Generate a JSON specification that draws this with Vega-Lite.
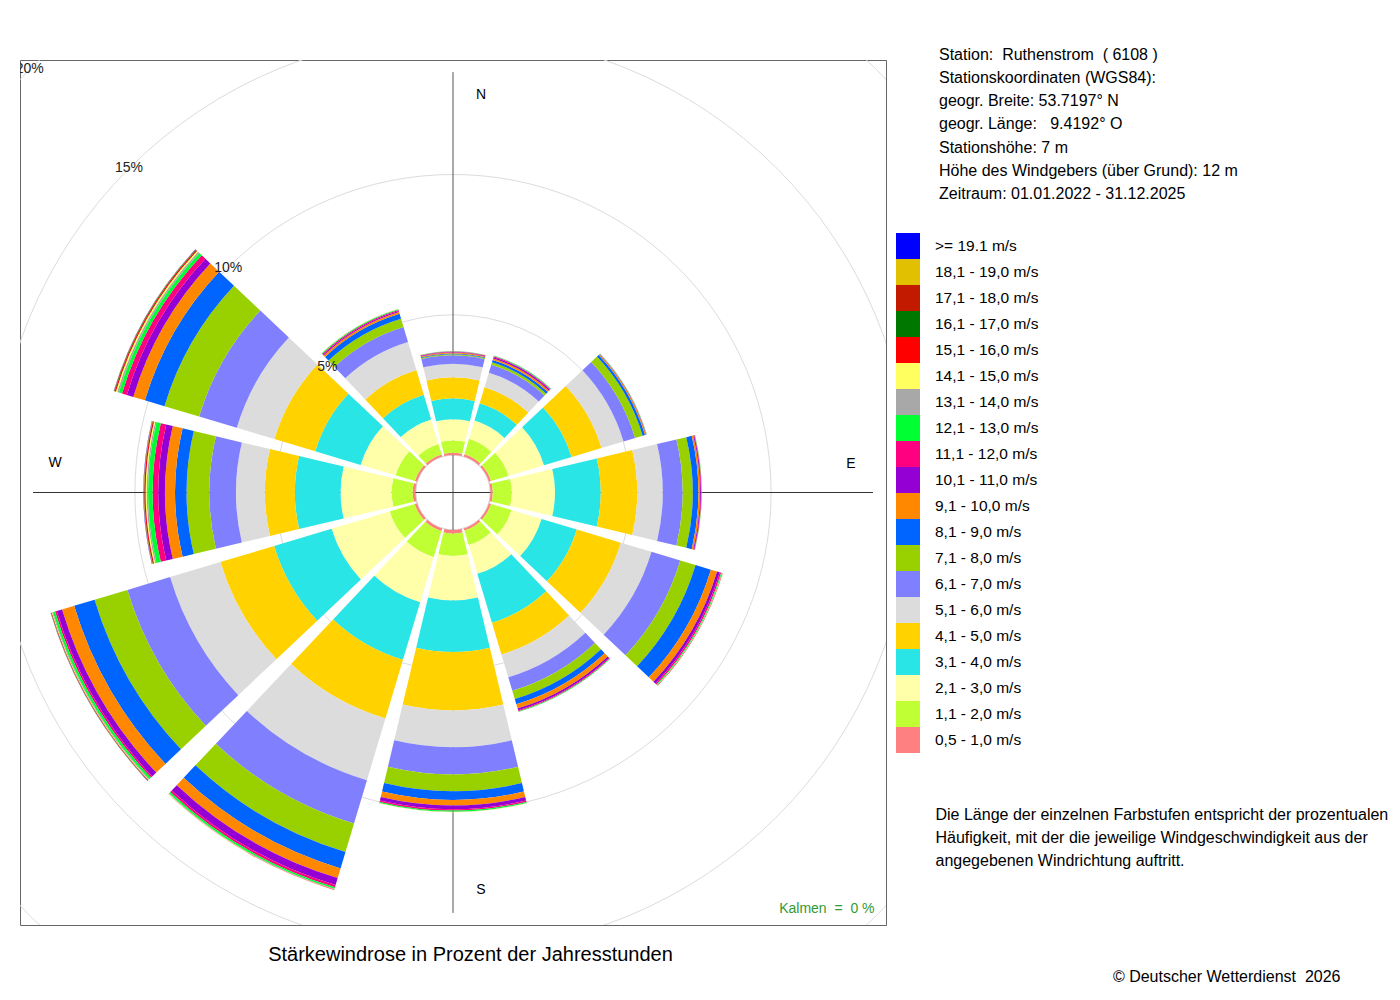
{
  "$schema": "https://vega.github.io/schema/vega-lite/v6.json",
  "width": 866,
  "height": 865,
  "autosize": "none",
  "padding": {"left": 20, "top": 60, "right": 514, "bottom": 75},
  "background": "white",
  "title": {
    "text": [
      "Station:\u00a0 Ruthenstrom\u00a0 ( 6108 )",
      "Stationskoordinaten (WGS84):",
      "geogr. Breite: 53.7197° N",
      "geogr. Länge:\u00a0\u00a0 9.4192° O",
      "Stationshöhe: 7 m",
      "Höhe des Windgebers (über Grund): 12 m",
      "Zeitraum: 01.01.2022 - 31.12.2025"
    ],
    "orient": "top",
    "anchor": "start",
    "frame": "group",
    "offset": 0,
    "dx": 919,
    "dy": 142,
    "baseline": "top",
    "lineHeight": 23.2,
    "fontSize": 16,
    "fontWeight": "normal",
    "color": "#000000"
  },
  "datasets": {
    "classes": [
      {"k": 1, "cls": "0,5 - 1,0 m/s"},
      {"k": 2, "cls": "1,1 - 2,0 m/s"},
      {"k": 3, "cls": "2,1 - 3,0 m/s"},
      {"k": 4, "cls": "3,1 - 4,0 m/s"},
      {"k": 5, "cls": "4,1 - 5,0 m/s"},
      {"k": 6, "cls": "5,1 - 6,0 m/s"},
      {"k": 7, "cls": "6,1 - 7,0 m/s"},
      {"k": 8, "cls": "7,1 - 8,0 m/s"},
      {"k": 9, "cls": "8,1 - 9,0 m/s"},
      {"k": 10, "cls": "9,1 - 10,0 m/s"},
      {"k": 11, "cls": "10,1 - 11,0 m/s"},
      {"k": 12, "cls": "11,1 - 12,0 m/s"},
      {"k": 13, "cls": "12,1 - 13,0 m/s"},
      {"k": 14, "cls": "13,1 - 14,0 m/s"},
      {"k": 15, "cls": "14,1 - 15,0 m/s"},
      {"k": 16, "cls": "15,1 - 16,0 m/s"},
      {"k": 17, "cls": "16,1 - 17,0 m/s"},
      {"k": 18, "cls": "17,1 - 18,0 m/s"},
      {"k": 19, "cls": "18,1 - 19,0 m/s"},
      {"k": 20, "cls": ">= 19.1 m/s"}
    ],
    "rose": [
      {"d": 0, "k": 1, "p": 0.08}, {"d": 0, "k": 2, "p": 0.44}, {"d": 0, "k": 3, "p": 0.75}, {"d": 0, "k": 4, "p": 0.75},
      {"d": 0, "k": 5, "p": 0.75}, {"d": 0, "k": 6, "p": 0.48}, {"d": 0, "k": 7, "p": 0.30}, {"d": 0, "k": 8, "p": 0.04},
      {"d": 0, "k": 9, "p": 0.03}, {"d": 0, "k": 10, "p": 0.03}, {"d": 0, "k": 11, "p": 0.02}, {"d": 0, "k": 12, "p": 0.02},
      {"d": 0, "k": 13, "p": 0.01}, {"d": 0, "k": 14, "p": 0.005}, {"d": 0, "k": 15, "p": 0.005},

      {"d": 30, "k": 1, "p": 0.09}, {"d": 30, "k": 2, "p": 0.57}, {"d": 30, "k": 3, "p": 0.68}, {"d": 30, "k": 4, "p": 0.64},
      {"d": 30, "k": 5, "p": 0.60}, {"d": 30, "k": 6, "p": 0.54}, {"d": 30, "k": 7, "p": 0.30}, {"d": 30, "k": 8, "p": 0.09},
      {"d": 30, "k": 9, "p": 0.08}, {"d": 30, "k": 10, "p": 0.06}, {"d": 30, "k": 11, "p": 0.05}, {"d": 30, "k": 12, "p": 0.03},
      {"d": 30, "k": 13, "p": 0.02}, {"d": 30, "k": 14, "p": 0.01},

      {"d": 60, "k": 1, "p": 0.08}, {"d": 60, "k": 2, "p": 0.65}, {"d": 60, "k": 3, "p": 1.32}, {"d": 60, "k": 4, "p": 1.03},
      {"d": 60, "k": 5, "p": 1.11}, {"d": 60, "k": 6, "p": 0.82}, {"d": 60, "k": 7, "p": 0.43}, {"d": 60, "k": 8, "p": 0.28},
      {"d": 60, "k": 9, "p": 0.09}, {"d": 60, "k": 10, "p": 0.03}, {"d": 60, "k": 11, "p": 0.01}, {"d": 60, "k": 12, "p": 0.01},
      {"d": 60, "k": 13, "p": 0.01}, {"d": 60, "k": 14, "p": 0.01},

      {"d": 90, "k": 1, "p": 0.08}, {"d": 90, "k": 2, "p": 0.68}, {"d": 90, "k": 3, "p": 1.54}, {"d": 90, "k": 4, "p": 1.63},
      {"d": 90, "k": 5, "p": 1.30}, {"d": 90, "k": 6, "p": 0.91}, {"d": 90, "k": 7, "p": 0.71}, {"d": 90, "k": 8, "p": 0.36},
      {"d": 90, "k": 9, "p": 0.20}, {"d": 90, "k": 10, "p": 0.06}, {"d": 90, "k": 11, "p": 0.03}, {"d": 90, "k": 12, "p": 0.02},
      {"d": 90, "k": 13, "p": 0.01}, {"d": 90, "k": 14, "p": 0.005}, {"d": 90, "k": 15, "p": 0.005},

      {"d": 120, "k": 1, "p": 0.08}, {"d": 120, "k": 2, "p": 0.76}, {"d": 120, "k": 3, "p": 1.12}, {"d": 120, "k": 4, "p": 1.31},
      {"d": 120, "k": 5, "p": 1.64}, {"d": 120, "k": 6, "p": 1.14}, {"d": 120, "k": 7, "p": 1.07}, {"d": 120, "k": 8, "p": 0.57},
      {"d": 120, "k": 9, "p": 0.57}, {"d": 120, "k": 10, "p": 0.23}, {"d": 120, "k": 11, "p": 0.10}, {"d": 120, "k": 12, "p": 0.05},
      {"d": 120, "k": 13, "p": 0.03}, {"d": 120, "k": 14, "p": 0.01}, {"d": 120, "k": 15, "p": 0.01}, {"d": 120, "k": 16, "p": 0.01},

      {"d": 150, "k": 1, "p": 0.08}, {"d": 150, "k": 2, "p": 0.54}, {"d": 150, "k": 3, "p": 1.07}, {"d": 150, "k": 4, "p": 1.82},
      {"d": 150, "k": 5, "p": 1.18}, {"d": 150, "k": 6, "p": 0.85}, {"d": 150, "k": 7, "p": 0.50}, {"d": 150, "k": 8, "p": 0.31},
      {"d": 150, "k": 9, "p": 0.19}, {"d": 150, "k": 10, "p": 0.16}, {"d": 150, "k": 11, "p": 0.07}, {"d": 150, "k": 12, "p": 0.03},
      {"d": 150, "k": 13, "p": 0.02}, {"d": 150, "k": 14, "p": 0.01},

      {"d": 180, "k": 1, "p": 0.13}, {"d": 180, "k": 2, "p": 0.80}, {"d": 180, "k": 3, "p": 1.58}, {"d": 180, "k": 4, "p": 1.84},
      {"d": 180, "k": 5, "p": 2.08}, {"d": 180, "k": 6, "p": 1.31}, {"d": 180, "k": 7, "p": 0.97}, {"d": 180, "k": 8, "p": 0.60},
      {"d": 180, "k": 9, "p": 0.31}, {"d": 180, "k": 10, "p": 0.20}, {"d": 180, "k": 11, "p": 0.13}, {"d": 180, "k": 12, "p": 0.05},
      {"d": 180, "k": 13, "p": 0.04}, {"d": 180, "k": 14, "p": 0.01}, {"d": 180, "k": 15, "p": 0.01},

      {"d": 210, "k": 1, "p": 0.10}, {"d": 210, "k": 2, "p": 0.97}, {"d": 210, "k": 3, "p": 1.68}, {"d": 210, "k": 4, "p": 2.14},
      {"d": 210, "k": 5, "p": 2.18}, {"d": 210, "k": 6, "p": 2.30}, {"d": 210, "k": 7, "p": 1.61}, {"d": 210, "k": 8, "p": 1.06},
      {"d": 210, "k": 9, "p": 0.61}, {"d": 210, "k": 10, "p": 0.36}, {"d": 210, "k": 11, "p": 0.26}, {"d": 210, "k": 12, "p": 0.08},
      {"d": 210, "k": 13, "p": 0.06}, {"d": 210, "k": 14, "p": 0.02}, {"d": 210, "k": 15, "p": 0.01}, {"d": 210, "k": 16, "p": 0.01},

      {"d": 240, "k": 1, "p": 0.09}, {"d": 240, "k": 2, "p": 0.93}, {"d": 240, "k": 3, "p": 2.16}, {"d": 240, "k": 4, "p": 2.14},
      {"d": 240, "k": 5, "p": 2.00}, {"d": 240, "k": 6, "p": 1.87}, {"d": 240, "k": 7, "p": 1.59}, {"d": 240, "k": 8, "p": 1.22},
      {"d": 240, "k": 9, "p": 0.76}, {"d": 240, "k": 10, "p": 0.45}, {"d": 240, "k": 11, "p": 0.20}, {"d": 240, "k": 12, "p": 0.06},
      {"d": 240, "k": 13, "p": 0.08}, {"d": 240, "k": 14, "p": 0.03}, {"d": 240, "k": 15, "p": 0.02}, {"d": 240, "k": 16, "p": 0.015},
      {"d": 240, "k": 17, "p": 0.01}, {"d": 240, "k": 18, "p": 0.005}, {"d": 240, "k": 19, "p": 0.005}, {"d": 240, "k": 20, "p": 0.005},

      {"d": 270, "k": 1, "p": 0.10}, {"d": 270, "k": 2, "p": 0.75}, {"d": 270, "k": 3, "p": 1.82}, {"d": 270, "k": 4, "p": 1.63},
      {"d": 270, "k": 5, "p": 1.07}, {"d": 270, "k": 6, "p": 1.03}, {"d": 270, "k": 7, "p": 0.95}, {"d": 270, "k": 8, "p": 0.81},
      {"d": 270, "k": 9, "p": 0.41}, {"d": 270, "k": 10, "p": 0.36}, {"d": 270, "k": 11, "p": 0.24}, {"d": 270, "k": 12, "p": 0.20},
      {"d": 270, "k": 13, "p": 0.16}, {"d": 270, "k": 14, "p": 0.05}, {"d": 270, "k": 15, "p": 0.04}, {"d": 270, "k": 16, "p": 0.04},
      {"d": 270, "k": 17, "p": 0.01}, {"d": 270, "k": 18, "p": 0.01}, {"d": 270, "k": 19, "p": 0.01}, {"d": 270, "k": 20, "p": 0.01},

      {"d": 300, "k": 1, "p": 0.08}, {"d": 300, "k": 2, "p": 0.72}, {"d": 300, "k": 3, "p": 1.30}, {"d": 300, "k": 4, "p": 1.69},
      {"d": 300, "k": 5, "p": 1.52}, {"d": 300, "k": 6, "p": 1.40}, {"d": 300, "k": 7, "p": 1.40}, {"d": 300, "k": 8, "p": 1.29},
      {"d": 300, "k": 9, "p": 0.73}, {"d": 300, "k": 10, "p": 0.43}, {"d": 300, "k": 11, "p": 0.24}, {"d": 300, "k": 12, "p": 0.18},
      {"d": 300, "k": 13, "p": 0.12}, {"d": 300, "k": 14, "p": 0.06}, {"d": 300, "k": 15, "p": 0.05}, {"d": 300, "k": 16, "p": 0.04},
      {"d": 300, "k": 17, "p": 0.02}, {"d": 300, "k": 18, "p": 0.01}, {"d": 300, "k": 19, "p": 0.005}, {"d": 300, "k": 20, "p": 0.005},

      {"d": 330, "k": 1, "p": 0.08}, {"d": 330, "k": 2, "p": 0.39}, {"d": 330, "k": 3, "p": 0.91}, {"d": 330, "k": 4, "p": 0.92},
      {"d": 330, "k": 5, "p": 0.92}, {"d": 330, "k": 6, "p": 1.04}, {"d": 330, "k": 7, "p": 0.56}, {"d": 330, "k": 8, "p": 0.31},
      {"d": 330, "k": 9, "p": 0.18}, {"d": 330, "k": 10, "p": 0.07}, {"d": 330, "k": 11, "p": 0.04}, {"d": 330, "k": 12, "p": 0.03},
      {"d": 330, "k": 13, "p": 0.03}, {"d": 330, "k": 14, "p": 0.01}, {"d": 330, "k": 15, "p": 0.01}
    ],
    "rings": [
      {"p": 5, "lab": "5%"},
      {"p": 10, "lab": "10%"},
      {"p": 15, "lab": "15%"},
      {"p": 20, "lab": "20%"}
    ],
    "compass": [
      {"lab": "N", "d": 0},
      {"lab": "E", "d": 90},
      {"lab": "S", "d": 180},
      {"lab": "W", "d": 270}
    ]
  },
  "resolve": {
    "scale": {"theta": "independent"},
    "axis": {"x": "independent", "y": "independent"}
  },
  "layer": [
    {
      "data": {"name": "rings"},
      "mark": {"type": "arc", "theta": 0, "theta2": 6.2832, "filled": false, "stroke": "#dcdcdc", "strokeWidth": 1, "clip": true},
      "encoding": {
        "radius": {"field": "p", "type": "quantitative", "stack": null,
          "scale": {"domain": [0, 20], "range": [37.5, 598.5], "nice": false, "zero": false}}
      }
    },
    {
      "data": {"values": [{}]},
      "mark": {"type": "rule", "color": "#555555", "strokeWidth": 1},
      "encoding": {
        "x": {"datum": 0, "type": "quantitative",
          "scale": {"domain": [-1, 1], "nice": false, "zero": false},
          "axis": {"orient": "bottom", "title": "Stärkewindrose in Prozent der Jahresstunden",
            "domain": false, "ticks": false, "labels": false, "grid": false,
            "titleX": 450, "titleY": 29, "titleAlign": "center", "titleBaseline": "middle",
            "titleFontSize": 20, "titleFontWeight": "normal", "titleColor": "#000000"}},
        "y": {"datum": -0.972, "type": "quantitative",
          "scale": {"domain": [-1, 1], "nice": false, "zero": false},
          "axis": {"orient": "left", "title": "Kalmen\u00a0 =\u00a0 0 %",
            "domain": false, "ticks": false, "labels": false, "grid": false,
            "titleAngle": 0, "titleX": 854, "titleY": 848, "titleAlign": "right", "titleBaseline": "middle",
            "titleFontSize": 14, "titleFontWeight": "normal", "titleColor": "#339933"}},
        "y2": {"datum": 0.972}
      }
    },
    {
      "data": {"values": [{}]},
      "mark": {"type": "rule", "color": "#333333", "strokeWidth": 1},
      "encoding": {
        "x": {"datum": -0.97, "type": "quantitative",
          "scale": {"domain": [-1, 1], "nice": false, "zero": false},
          "axis": {"orient": "top",
            "title": [
              "Die Länge der einzelnen Farbstufen entspricht der prozentualen",
              "Häufigkeit, mit der die jeweilige Windgeschwindigkeit aus der",
              "angegebenen Windrichtung auftritt."
            ],
            "domain": false, "ticks": false, "labels": false, "grid": false,
            "titleX": 915, "titleY": 754, "titleAlign": "left", "titleBaseline": "middle",
            "titleLineHeight": 23, "titleFontSize": 16, "titleFontWeight": "normal", "titleColor": "#000000"}},
        "x2": {"datum": 0.97},
        "y": {"datum": 0, "type": "quantitative",
          "scale": {"domain": [-1, 1], "nice": false, "zero": false},
          "axis": {"orient": "right", "title": "© Deutscher Wetterdienst\u00a0 2026",
            "domain": false, "ticks": false, "labels": false, "grid": false,
            "titleAngle": 0, "titleX": 454, "titleY": 916, "titleAlign": "right", "titleBaseline": "middle",
            "titleFontSize": 16, "titleFontWeight": "normal", "titleColor": "#000000"}}
      }
    },
    {
      "data": {"name": "rose"},
      "transform": [
        {"lookup": "k", "from": {"data": {"name": "classes"}, "key": "k", "fields": ["cls"]}},
        {"stack": "p", "groupby": ["d"], "sort": [{"field": "k", "order": "ascending"}], "as": ["r0", "r1"]}
      ],
      "mark": {"type": "arc"},
      "encoding": {
        "theta": {"field": "d", "type": "ordinal",
          "scale": {"type": "band", "domain": [0, 30, 60, 90, 120, 150, 180, 210, 240, 270, 300, 330],
            "range": [-0.2618, 6.0214], "paddingInner": 0.11, "paddingOuter": 0.055}},
        "radius": {"field": "r1", "type": "quantitative", "stack": null},
        "radius2": {"field": "r0"},
        "color": {"field": "cls", "type": "nominal",
          "scale": {
            "domain": [">= 19.1 m/s", "18,1 - 19,0 m/s", "17,1 - 18,0 m/s", "16,1 - 17,0 m/s", "15,1 - 16,0 m/s",
              "14,1 - 15,0 m/s", "13,1 - 14,0 m/s", "12,1 - 13,0 m/s", "11,1 - 12,0 m/s", "10,1 - 11,0 m/s",
              "9,1 - 10,0 m/s", "8,1 - 9,0 m/s", "7,1 - 8,0 m/s", "6,1 - 7,0 m/s", "5,1 - 6,0 m/s",
              "4,1 - 5,0 m/s", "3,1 - 4,0 m/s", "2,1 - 3,0 m/s", "1,1 - 2,0 m/s", "0,5 - 1,0 m/s"],
            "range": ["#0000FF", "#E0C000", "#C21A00", "#007800", "#FF0000",
              "#FFFF60", "#A8A8A8", "#00FF33", "#FF0080", "#9400D3",
              "#FF8800", "#0064FF", "#99D100", "#8080FF", "#DCDCDC",
              "#FFD200", "#2AE5E5", "#FFFFAA", "#BFFF33", "#FF8080"]
          },
          "legend": {
            "title": null,
            "orient": "none",
            "legendX": 876,
            "legendY": 174,
            "padding": 0,
            "symbolType": "M-1,-1.0833H1V1.0833H-1Z",
            "symbolSize": 576,
            "symbolStrokeWidth": 0,
            "symbolOpacity": 1,
            "rowPadding": 0,
            "labelOffset": 15,
            "labelFontSize": 15.5,
            "labelColor": "#000000",
            "labelLimit": 300
          }
        }
      }
    },
    {
      "data": {"name": "rings"},
      "mark": {"type": "text", "fontSize": 14, "color": "#222222", "clip": true},
      "encoding": {
        "theta": {"datum": 315, "type": "quantitative", "scale": {"domain": [0, 360], "range": [0, 6.2832]}},
        "radius": {"field": "p", "type": "quantitative", "stack": null},
        "text": {"field": "lab"}
      }
    },
    {
      "data": {"name": "compass"},
      "transform": [{"filter": "datum.d == 0 || datum.d == 180"}],
      "mark": {"type": "text", "fontSize": 14, "color": "#000000", "dx": 28},
      "encoding": {
        "theta": {"field": "d", "type": "quantitative", "scale": {"domain": [0, 360], "range": [0, 6.2832]}},
        "radius": {"datum": 12.85, "type": "quantitative", "stack": null},
        "text": {"field": "lab"}
      }
    },
    {
      "data": {"name": "compass"},
      "transform": [{"filter": "datum.d == 90 || datum.d == 270"}],
      "mark": {"type": "text", "fontSize": 14, "color": "#000000", "dy": -29},
      "encoding": {
        "theta": {"field": "d", "type": "quantitative", "scale": {"domain": [0, 360], "range": [0, 6.2832]}},
        "radius": {"datum": 12.85, "type": "quantitative", "stack": null},
        "text": {"field": "lab"}
      }
    }
  ],
  "config": {
    "font": "Liberation Sans",
    "view": {"stroke": "#666666", "strokeWidth": 1}
  }
}
